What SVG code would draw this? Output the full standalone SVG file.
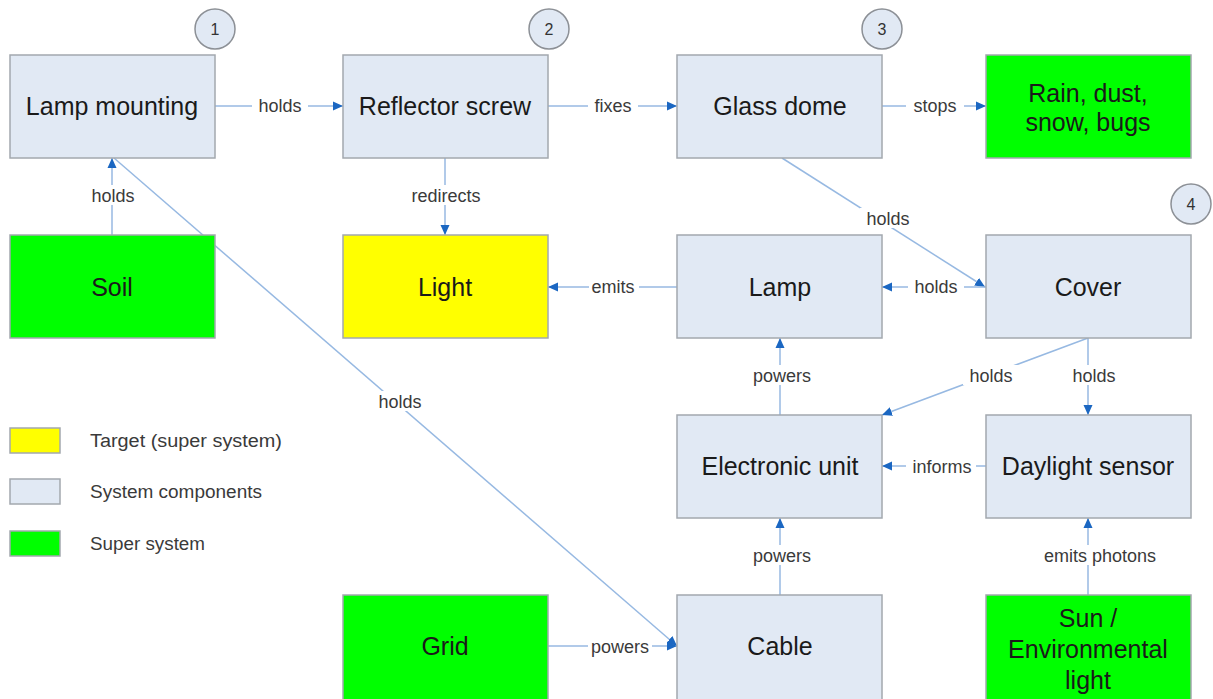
<svg xmlns="http://www.w3.org/2000/svg" width="1213" height="699" viewBox="0 0 1213 699">
  <style>
    .node rect { stroke: #a3a8ae; stroke-width: 1.5; }
    .sys { fill: #e1e9f4; }
    .sup { fill: #00ff00; }
    .tgt { fill: #ffff00; }
    .node text { font-family: "Liberation Sans", Arial, sans-serif; font-size: 25px; fill: #1a1a1a; text-anchor: middle; }
    .edge line { stroke: #97b9e2; stroke-width: 1.5; fill: none; }
    .lbl rect { fill: #ffffff; }
    .lbl text { font-family: "Liberation Sans", Arial, sans-serif; font-size: 18px; fill: #3a3a3a; text-anchor: middle; }
    .badge circle { fill: #e1e9f4; stroke: #8c9096; stroke-width: 1.5; }
    .badge text { font-family: "Liberation Sans", Arial, sans-serif; font-size: 16px; fill: #333; text-anchor: middle; }
    .legend text { font-family: "Liberation Sans", Arial, sans-serif; font-size: 18px; fill: #3a3a3a; }
    .legend rect { stroke: #a3a8ae; stroke-width: 1.5; }
  </style>
  <defs>
    <marker id="arrow" viewBox="0 0 10 10" refX="10" refY="5" markerWidth="10" markerHeight="10" markerUnits="userSpaceOnUse" orient="auto">
      <path d="M0,0.5 L10,5 L0,9.5 Z" fill="#1b67c2"/>
    </marker>
  </defs>
  <rect width="1213" height="699" fill="#ffffff"/>

  <!-- connectors -->
  <g id="connectors" class="edge">
    <line x1="215" y1="106" x2="343" y2="106" marker-end="url(#arrow)"/>
    <line x1="548" y1="106" x2="677" y2="106" marker-end="url(#arrow)"/>
    <line x1="882" y1="106" x2="986" y2="106" marker-end="url(#arrow)"/>
    <line x1="112" y1="235" x2="112" y2="158" marker-end="url(#arrow)"/>
    <line x1="445" y1="158" x2="445" y2="235" marker-end="url(#arrow)"/>
    <line x1="782" y1="158" x2="985" y2="287" marker-end="url(#arrow)"/>
    <line x1="986" y1="287" x2="882" y2="287" marker-end="url(#arrow)"/>
    <line x1="677" y1="287" x2="548" y2="287" marker-end="url(#arrow)"/>
    <line x1="780" y1="415" x2="780" y2="338" marker-end="url(#arrow)"/>
    <line x1="1088" y1="338" x2="882" y2="415" marker-end="url(#arrow)"/>
    <line x1="1088" y1="338" x2="1088" y2="415" marker-end="url(#arrow)"/>
    <line x1="986" y1="466" x2="882" y2="466" marker-end="url(#arrow)"/>
    <line x1="780" y1="595" x2="780" y2="518" marker-end="url(#arrow)"/>
    <line x1="1088" y1="595" x2="1088" y2="518" marker-end="url(#arrow)"/>
    <line x1="548" y1="646" x2="677" y2="646" marker-end="url(#arrow)"/>
    <line x1="114" y1="158" x2="677" y2="646" marker-end="url(#arrow)"/>

    <g class="lbl">
      <rect x="252" y="95" width="56" height="20"/><text x="280" y="112">holds</text>
      <rect x="588" y="95" width="50" height="20"/><text x="613" y="112">fixes</text>
      <rect x="906" y="95" width="58" height="20"/><text x="935" y="112">stops</text>
      <rect x="86" y="185" width="54" height="20"/><text x="113" y="202">holds</text>
      <rect x="404" y="185" width="84" height="20"/><text x="446" y="202">redirects</text>
      <rect x="860" y="208" width="56" height="20"/><text x="888" y="225">holds</text>
      <rect x="908" y="276" width="56" height="20"/><text x="936" y="293">holds</text>
      <rect x="589" y="276" width="50" height="20"/><text x="613" y="293">emits</text>
      <rect x="750" y="365" width="64" height="20"/><text x="782" y="382">powers</text>
      <rect x="963" y="365" width="56" height="20"/><text x="991" y="382">holds</text>
      <rect x="1066" y="365" width="56" height="20"/><text x="1094" y="382">holds</text>
      <rect x="906" y="456" width="70" height="20"/><text x="942" y="473">informs</text>
      <rect x="750" y="545" width="64" height="20"/><text x="782" y="562">powers</text>
      <rect x="1034" y="545" width="132" height="20"/><text x="1100" y="562">emits photons</text>
      <rect x="588" y="636" width="64" height="20"/><text x="620" y="653">powers</text>
      <rect x="372" y="391" width="56" height="20"/><text x="400" y="408">holds</text>
    </g>
  </g>

  <!-- numbered badges -->
  <g id="badge-1" class="badge"><circle cx="215" cy="29" r="20"/><text x="215" y="35">1</text></g>
  <g id="badge-2" class="badge"><circle cx="549" cy="29" r="20"/><text x="549" y="35">2</text></g>
  <g id="badge-3" class="badge"><circle cx="882" cy="29" r="20"/><text x="882" y="35">3</text></g>
  <g id="badge-4" class="badge"><circle cx="1191" cy="204" r="20"/><text x="1191" y="210">4</text></g>

  <!-- nodes -->
  <g id="lamp-mounting" class="node"><rect class="sys" x="10" y="55" width="205" height="103"/><text x="112" y="115">Lamp mounting</text></g>
  <g id="reflector-screw" class="node"><rect class="sys" x="343" y="55" width="205" height="103"/><text x="445" y="115">Reflector screw</text></g>
  <g id="glass-dome" class="node"><rect class="sys" x="677" y="55" width="205" height="103"/><text x="780" y="115">Glass dome</text></g>
  <g id="rain-dust" class="node"><rect class="sup" x="986" y="55" width="205" height="103"/><text x="1088" y="102">Rain, dust,</text><text x="1088" y="131">snow, bugs</text></g>
  <g id="soil" class="node"><rect class="sup" x="10" y="235" width="205" height="103"/><text x="112" y="296">Soil</text></g>
  <g id="light" class="node"><rect class="tgt" x="343" y="235" width="205" height="103"/><text x="445" y="296">Light</text></g>
  <g id="lamp" class="node"><rect class="sys" x="677" y="235" width="205" height="103"/><text x="780" y="296">Lamp</text></g>
  <g id="cover" class="node"><rect class="sys" x="986" y="235" width="205" height="103"/><text x="1088" y="296">Cover</text></g>
  <g id="electronic-unit" class="node"><rect class="sys" x="677" y="415" width="205" height="103"/><text x="780" y="475">Electronic unit</text></g>
  <g id="daylight-sensor" class="node"><rect class="sys" x="986" y="415" width="205" height="103"/><text x="1088" y="475">Daylight sensor</text></g>
  <g id="grid" class="node"><rect class="sup" x="343" y="595" width="205" height="110"/><text x="445" y="655">Grid</text></g>
  <g id="cable" class="node"><rect class="sys" x="677" y="595" width="205" height="110"/><text x="780" y="655">Cable</text></g>
  <g id="sun" class="node"><rect class="sup" x="986" y="595" width="205" height="110"/><text x="1088" y="627">Sun /</text><text x="1088" y="658">Environmental</text><text x="1088" y="689">light</text></g>

  <!-- legend -->
  <g id="legend" class="legend">
    <rect class="tgt" x="10" y="428" width="50" height="25"/>
    <text x="90" y="447" textLength="192" lengthAdjust="spacingAndGlyphs">Target (super system)</text>
    <rect class="sys" x="10" y="479" width="50" height="25"/>
    <text x="90" y="498" textLength="172" lengthAdjust="spacingAndGlyphs">System components</text>
    <rect class="sup" x="10" y="531" width="50" height="25"/>
    <text x="90" y="550" textLength="115" lengthAdjust="spacingAndGlyphs">Super system</text>
  </g>
</svg>
